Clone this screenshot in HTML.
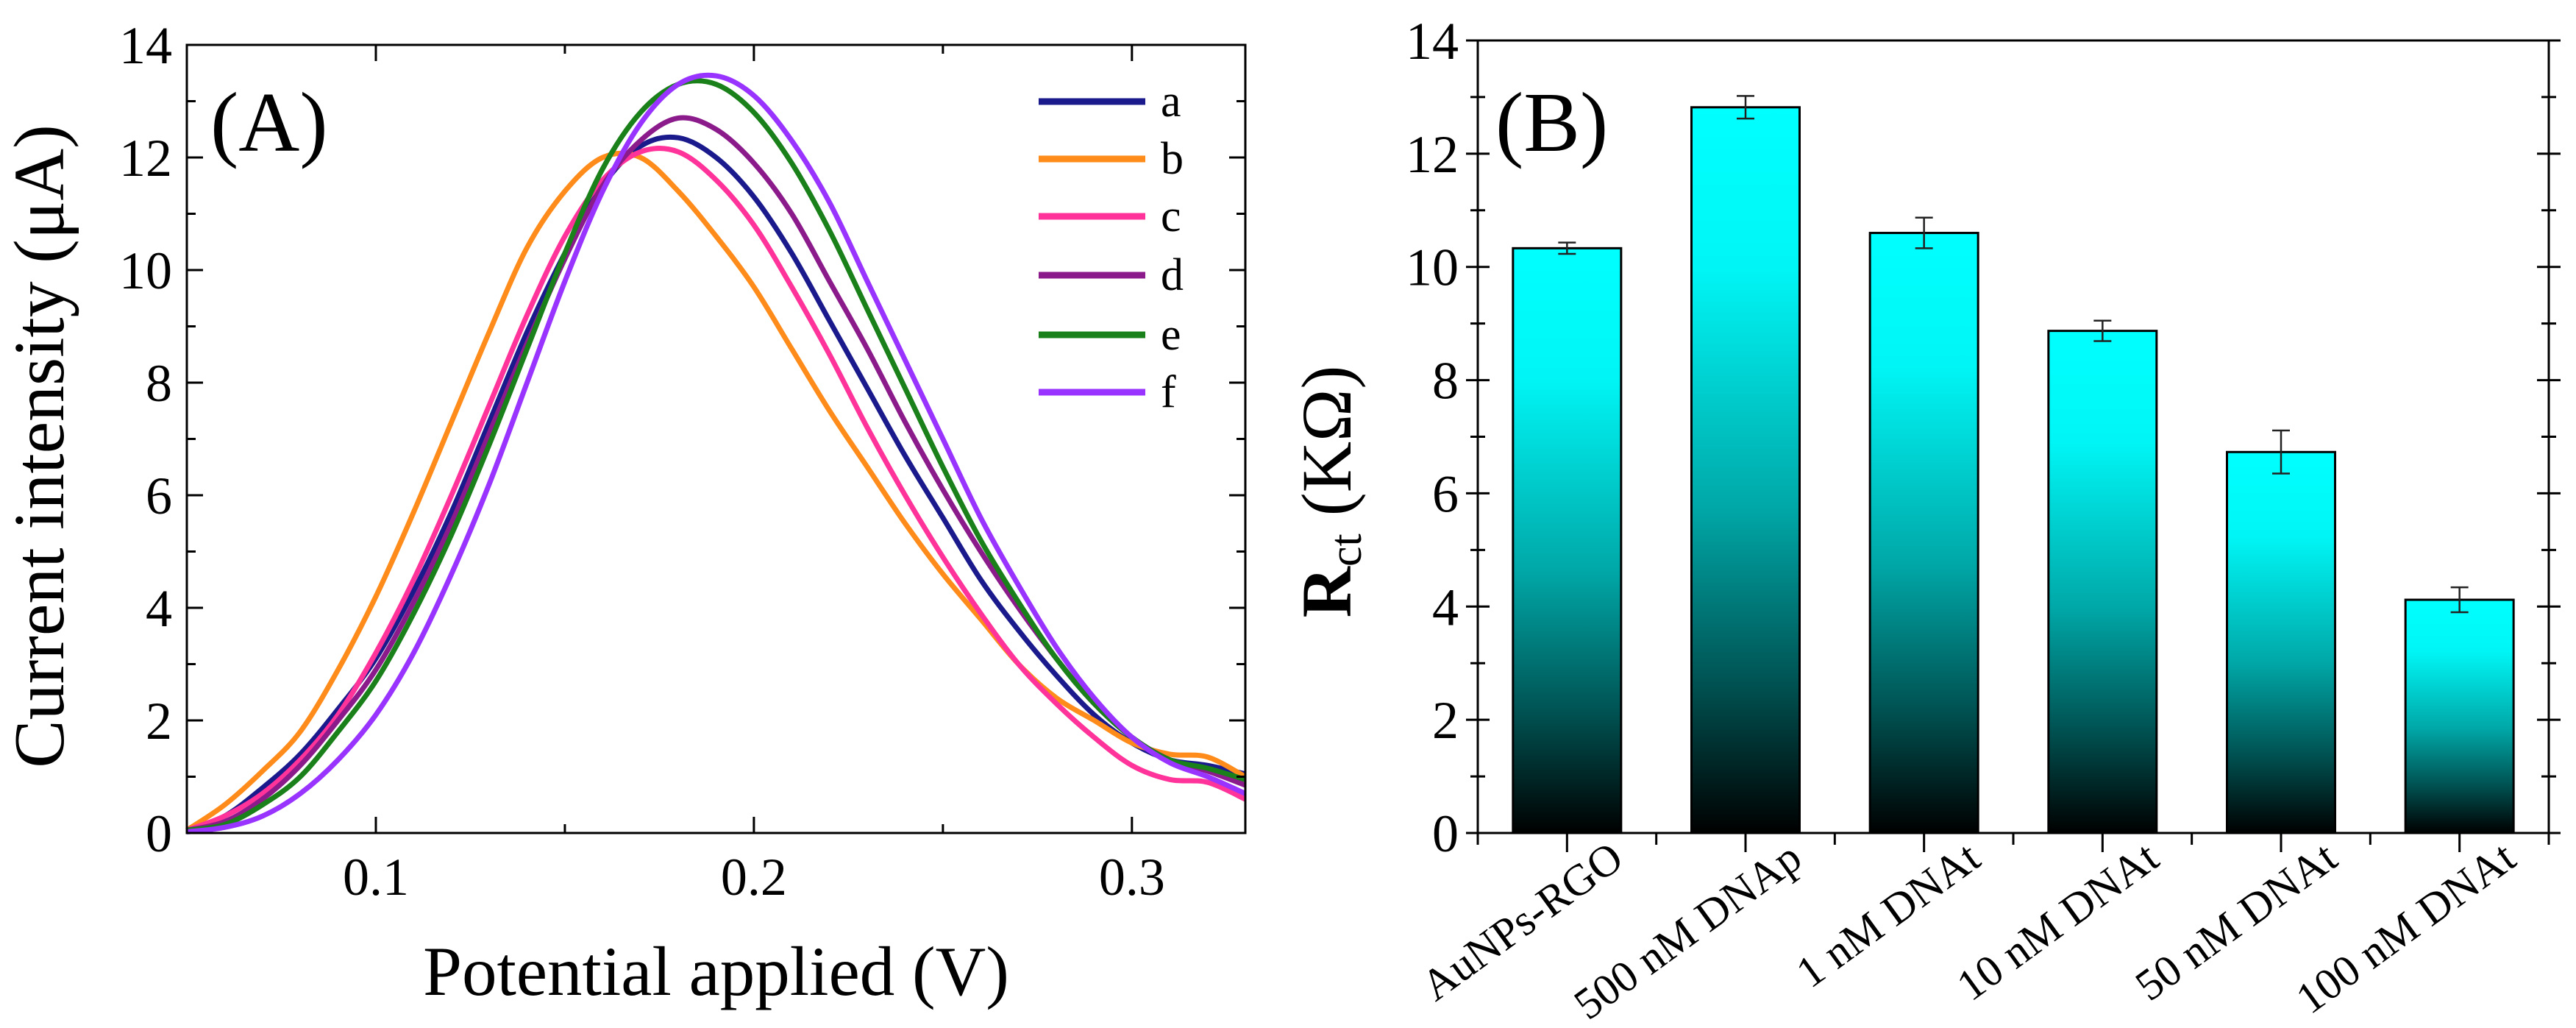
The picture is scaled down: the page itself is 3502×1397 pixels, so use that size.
<!DOCTYPE html>
<html><head><meta charset="utf-8"><style>
html,body{margin:0;padding:0;background:#fff;}
svg{display:block;font-family:"Liberation Serif",serif;}
</style></head><body>
<svg id="fig" width="3502" height="1397" viewBox="0 0 3502 1397" xmlns="http://www.w3.org/2000/svg">
<defs>
<linearGradient id="barGrad" x1="0" y1="0" x2="0" y2="1">
<stop offset="0" stop-color="#00ffff"/>
<stop offset="0.22" stop-color="#00f6f6"/>
<stop offset="0.55" stop-color="#00a8a8"/>
<stop offset="0.8" stop-color="#005050"/>
<stop offset="1" stop-color="#000000"/>
</linearGradient>
</defs>
<g id="panelA"></g>
<g id="panelB"></g>
</svg>
<script>
// ---- Panel A data ----
const potentials = [0.05,0.06,0.07,0.08,0.09,0.10,0.11,0.12,0.13,0.14,0.15,0.16,0.17,0.18,0.19,0.20,0.21,0.22,0.23,0.24,0.25,0.26,0.27,0.28,0.29,0.30,0.31,0.32,0.33];
const seriesNames = ["a","b","c","d","e","f"];
const seriesColors = ["#1a1a8c","#ff8c1a","#ff3399","#8b1a8b","#1a801a","#9933ff"];
const curveA = [0.05,0.3,0.8,1.4,2.2,3.1,4.3,5.7,7.3,8.9,10.3,11.5,12.2,12.35,12.0,11.3,10.3,9.1,7.9,6.7,5.6,4.5,3.6,2.8,2.1,1.6,1.3,1.2,1.05];
const curveB = [0.05,0.5,1.1,1.8,2.9,4.2,5.7,7.3,8.9,10.4,11.4,12.0,12.0,11.4,10.6,9.7,8.6,7.5,6.5,5.5,4.6,3.8,3.0,2.4,2.0,1.6,1.4,1.35,1.0];
const curveC = [0.05,0.3,0.7,1.3,2.1,3.2,4.5,6.0,7.6,9.2,10.6,11.6,12.1,12.1,11.6,10.8,9.7,8.5,7.2,6.0,4.9,3.9,3.0,2.3,1.7,1.2,0.95,0.9,0.6];
const curveD = [0.05,0.2,0.6,1.2,2.0,2.9,4.1,5.5,7.1,8.7,10.2,11.5,12.3,12.7,12.5,11.9,11.0,9.8,8.6,7.3,6.1,5.0,4.0,3.1,2.3,1.7,1.3,1.1,0.85];
const curveE = [0.05,0.15,0.5,1.0,1.8,2.7,3.9,5.3,6.9,8.6,10.3,11.8,12.8,13.3,13.3,12.8,11.9,10.7,9.3,7.9,6.5,5.2,4.1,3.1,2.3,1.7,1.3,1.15,0.95];
const curveF = [0.02,0.1,0.3,0.7,1.3,2.1,3.2,4.6,6.2,8.0,9.8,11.4,12.6,13.3,13.45,13.1,12.3,11.2,9.8,8.4,7.0,5.6,4.4,3.3,2.4,1.7,1.25,1.0,0.7];
const xTicksA = [0.1,0.2,0.3];
const xTickLabelsA = ["0.1","0.2","0.3"];
const yTicks = [0,2,4,6,8,10,12,14];
const yTickLabels = ["0","2","4","6","8","10","12","14"];
// ---- Panel B data ----
const categories = ["AuNPs-RGO","500 nM DNAp","1 nM DNAt","10 nM DNAt","50 nM DNAt","100 nM DNAt"];
const rctValues = [10.33,12.82,10.6,8.87,6.73,4.12];
const rctErrors = [0.1,0.2,0.27,0.18,0.38,0.22];

const NS="http://www.w3.org/2000/svg";
function mk(parent,tag,attrs,text){const e=document.createElementNS(NS,tag);for(const k in attrs)e.setAttribute(k,attrs[k]);if(text!==undefined)e.textContent=text;parent.appendChild(e);return e;}

// Panel A
const A=document.getElementById('panelA');
const aL=254,aR=1693,aT=61,aB=1132;
const xA=v=>aL+(v-0.05)/(0.33-0.05)*(aR-aL);
const yA=v=>aB-v/14*(aB-aT);
const curves=[curveA,curveB,curveC,curveD,curveE,curveF];
curves.forEach((c,i)=>{
  const pts=c.map((v,j)=>[xA(potentials[j]),yA(v)]);
  let d="M"+pts[0][0]+","+pts[0][1];
  for(let j=0;j<pts.length-1;j++){
    const p0=pts[Math.max(0,j-1)],p1=pts[j],p2=pts[j+1],p3=pts[Math.min(pts.length-1,j+2)];
    const c1=[p1[0]+(p2[0]-p0[0])/6,p1[1]+(p2[1]-p0[1])/6];
    const c2=[p2[0]-(p3[0]-p1[0])/6,p2[1]-(p3[1]-p1[1])/6];
    d+=` C${c1[0]},${c1[1]} ${c2[0]},${c2[1]} ${p2[0]},${p2[1]}`;
  }
  const p=mk(A,'path',{d:d,fill:'none',stroke:seriesColors[i],'stroke-width':7,'stroke-linejoin':'round'});
  
  
});
const frA=mk(A,'rect',{x:aL,y:aT,width:aR-aL,height:aB-aT,fill:'none',stroke:'#000','stroke-width':3});


for(let v=0;v<=14;v++){
  const y=yA(v),len=(v%2===0)?22:12;
  mk(A,'line',{x1:aL,y1:y,x2:aL+len,y2:y,stroke:'#000','stroke-width':3});
  mk(A,'line',{x1:aR,y1:y,x2:aR-len,y2:y,stroke:'#000','stroke-width':3});
}
yTicks.forEach((v,i)=>{
  const t=mk(A,'text',{x:aL-20,y:yA(v)+25,'text-anchor':'end','font-size':72},yTickLabels[i]);
  
  
});
for(let k=1;k<=6;k++){
  const v=0.05*k;if(v>0.33)break;const x=xA(v);const len=(k%2===0)?22:12;
  mk(A,'line',{x1:x,y1:aB,x2:x,y2:aB-len,stroke:'#000','stroke-width':3});
  mk(A,'line',{x1:x,y1:aT,x2:x,y2:aT+len,stroke:'#000','stroke-width':3});
}
xTicksA.forEach((v,i)=>{
  const t=mk(A,'text',{x:xA(v),y:aB+84,'text-anchor':'middle','font-size':72},xTickLabelsA[i]);
  
  
});
let t=mk(A,'text',{x:(aL+aR)/2,y:1352,'text-anchor':'middle','font-size':95},'Potential applied (V)');


t=mk(A,'text',{x:0,y:0,'text-anchor':'middle','font-size':98,transform:`translate(86,${(aT+aB)/2+10}) rotate(-90)`},'Current intensity (μA)');


t=mk(A,'text',{x:286,y:205,'font-size':115},'(A)');


const legY=[138,216,294,374,455,533];
seriesNames.forEach((n,i)=>{
  const g=mk(A,'g',{});
  
  
  mk(g,'line',{x1:1412,y1:legY[i],x2:1557,y2:legY[i],stroke:seriesColors[i],'stroke-width':9});
  mk(g,'text',{x:1578,y:legY[i]+20,'font-size':62},n);
});

// Panel B
const B=document.getElementById('panelB');
const bL=2009,bR=3465,bT=55,bB=1132;
const band=(bR-bL)/categories.length;
const xB=i=>bL+band*(i+0.5);
const yB=v=>bB-v/14*(bB-bT);
const bw=147;
rctValues.forEach((v,i)=>{
  const r=mk(B,'rect',{x:xB(i)-bw/2,y:yB(v),width:bw,height:bB-yB(v),fill:'url(#barGrad)',stroke:'#000','stroke-width':3});
  
  
  const e=rctErrors[i],g=mk(B,'g',{stroke:'#222','stroke-width':2.5});
  
  
  mk(g,'line',{x1:xB(i),y1:yB(v+e),x2:xB(i),y2:yB(v-e)});
  mk(g,'line',{x1:xB(i)-12,y1:yB(v+e),x2:xB(i)+12,y2:yB(v+e)});
  mk(g,'line',{x1:xB(i)-12,y1:yB(v-e),x2:xB(i)+12,y2:yB(v-e)});
});
const frB=mk(B,'rect',{x:bL,y:bT,width:bR-bL,height:bB-bT,fill:'none',stroke:'#000','stroke-width':3});


for(let v=0;v<=14;v++){
  const y=yB(v),len=(v%2===0)?16:10;
  mk(B,'line',{x1:bL-len,y1:y,x2:bL+len,y2:y,stroke:'#000','stroke-width':3});
  mk(B,'line',{x1:bR-len,y1:y,x2:bR+len,y2:y,stroke:'#000','stroke-width':3});
}
yTicks.forEach((v,i)=>{
  const tt=mk(B,'text',{x:bL-26,y:yB(v)+25,'text-anchor':'end','font-size':72},yTickLabels[i]);
  
  
});
for(let k=0;k<=categories.length*2;k++){
  const x=bL+band*k/2;const len=(k%2===1)?26:16;
  mk(B,'line',{x1:x,y1:bB,x2:x,y2:bB+len,stroke:'#000','stroke-width':3});
}
categories.forEach((c,i)=>{
  const tt=mk(B,'text',{x:0,y:0,'text-anchor':'end','font-size':60,transform:`translate(${xB(i)+80},${bB+42}) rotate(-36)`},c);
  
  
});
t=mk(B,'text',{x:0,y:0,'text-anchor':'middle','font-size':96,transform:`translate(1836,668) rotate(-90)`});


mk(t,'tspan',{'font-weight':'bold'},'R');
mk(t,'tspan',{'font-size':62,dy:14},'ct');
mk(t,'tspan',{dy:-14},' (KΩ)');
t=mk(B,'text',{x:2033,y:205,'font-size':115},'(B)');


</script>
</body></html>
